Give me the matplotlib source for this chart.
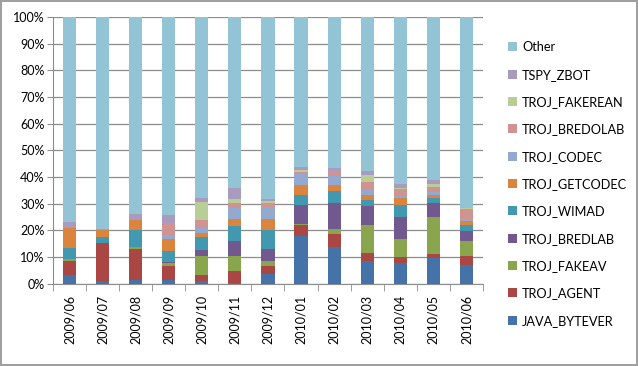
import numpy as np
import matplotlib
matplotlib.use("Agg")
import matplotlib.pyplot as plt

months = ["2009/06", "2009/07", "2009/08", "2009/09", "2009/10", "2009/11", "2009/12",
          "2010/01", "2010/02", "2010/03", "2010/04", "2010/05", "2010/06"]

# share of detections per month (%), bottom to top
java_bytever = [3.1, 1.0, 1.5, 1.5, 1.0, 0.4, 3.6, 17.8, 13.9, 8.5, 7.8, 9.8, 6.9]
troj_agent = [5.4, 14.3, 11.6, 5.3, 2.4, 4.4, 2.9, 4.0, 4.6, 3.0, 2.2, 1.3, 3.6]
troj_fakeav = [0.6, 0.0, 0.7, 1.0, 7.1, 5.7, 2.0, 0.6, 1.9, 10.3, 6.8, 13.9, 5.5]
troj_bredlab = [0.0, 0.0, 0.0, 0.2, 2.1, 5.6, 4.5, 7.0, 9.9, 7.2, 8.0, 5.4, 3.6]
troj_wimad = [4.4, 2.0, 6.3, 4.4, 4.7, 5.4, 7.0, 3.9, 4.5, 2.2, 4.6, 1.8, 2.4]
troj_getcodec = [7.5, 2.7, 3.9, 4.5, 1.8, 2.9, 4.3, 3.5, 2.1, 2.0, 2.8, 1.1, 1.3]
troj_codec = [0.0, 0.0, 0.0, 1.4, 1.9, 4.1, 4.5, 4.3, 3.4, 1.8, 0.8, 1.2, 0.9]
troj_bredolab = [0.0, 0.2, 0.0, 4.4, 2.8, 1.7, 1.4, 0.7, 1.9, 3.0, 2.3, 1.7, 3.8]
troj_fakerean = [0.0, 0.0, 0.0, 0.0, 6.7, 1.6, 0.6, 0.9, 0.2, 2.7, 0.5, 1.0, 0.3]
tspy_zbot = [2.2, 0.2, 2.2, 3.0, 1.7, 4.2, 1.0, 1.2, 0.8, 1.6, 1.7, 1.8, 0.2]

series = [
    ("JAVA_BYTEVER", java_bytever, "#4572A7"),
    ("TROJ_AGENT", troj_agent, "#AA4643"),
    ("TROJ_FAKEAV", troj_fakeav, "#89A54E"),
    ("TROJ_BREDLAB", troj_bredlab, "#71588F"),
    ("TROJ_WIMAD", troj_wimad, "#4198AF"),
    ("TROJ_GETCODEC", troj_getcodec, "#DB843D"),
    ("TROJ_CODEC", troj_codec, "#93A9CF"),
    ("TROJ_BREDOLAB", troj_bredolab, "#D19392"),
    ("TROJ_FAKEREAN", troj_fakerean, "#B9CD96"),
    ("TSPY_ZBOT", tspy_zbot, "#A99BBD"),
]
# "Other" fills the rest up to 100%
other = 100 - np.sum([s[1] for s in series], axis=0)
series.append(("Other", other, "#93C4D6"))

plt.rcParams['font.family'] = ['Lato', 'DejaVu Sans']

fig = plt.figure(figsize=(6.38, 3.66), dpi=100)
fig.patch.set_edgecolor("#A0A0A0")
fig.patch.set_linewidth(1.5)
ax = fig.add_axes([0.083, 0.225, 0.674, 0.729])

x = np.arange(len(months))
bottom = np.zeros(len(months))
handles = []
for name, vals, color in series:
    b = ax.bar(x, vals, width=0.4, bottom=bottom, color=color, label=name, zorder=3)
    handles.append(b)
    bottom += np.array(vals)

ax.set_ylim(0, 100)
ax.set_xlim(-0.5, len(months) - 0.5)
ax.set_yticks(np.arange(0, 101, 10))
ax.set_yticklabels([f"{v}%" for v in range(0, 101, 10)], fontsize=9)
ax.yaxis.grid(True, color="#8C8C8C", linewidth=0.9, zorder=0)
ax.tick_params(axis='y', length=4, color="#8C8C8C", pad=2)

ax.set_xticks(x)
ax.set_xticklabels(months, rotation=90, fontsize=9)
ax.tick_params(axis='x', length=0, pad=8)
ax.set_xticks(np.arange(-0.5, len(months)), minor=True)
ax.tick_params(axis='x', which='minor', length=5, color="#8C8C8C")

for side in ["top", "right"]:
    ax.spines[side].set_visible(False)
for side in ["left", "bottom"]:
    ax.spines[side].set_color("#8C8C8C")

fig.legend(handles[::-1], [s[0] for s in series][::-1],
           loc="center left", bbox_to_anchor=(0.778, 0.497), frameon=False,
           fontsize=9.2, handlelength=0.7, handleheight=0.7, handletextpad=0.4,
           labelspacing=1.2)

fig.savefig("out.png", dpi=100)
